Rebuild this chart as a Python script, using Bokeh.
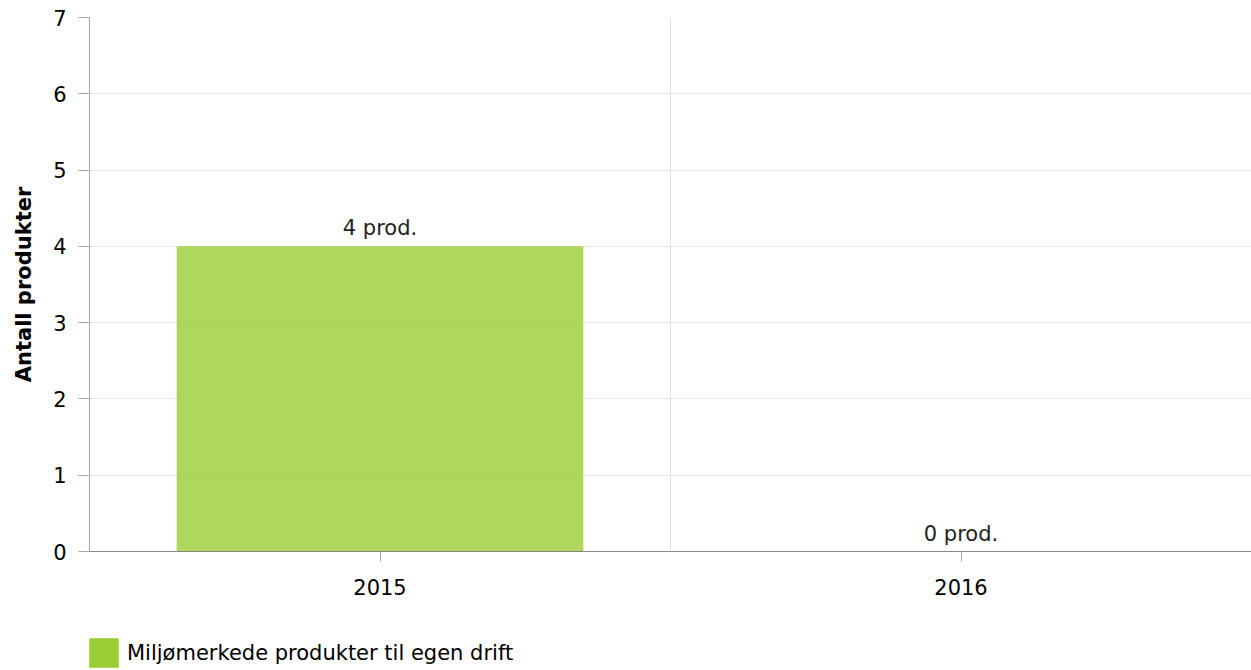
from bokeh.plotting import figure
from bokeh.layouts import column
from bokeh.models import ColumnDataSource, Span, Legend, LegendItem, FixedTicker, LabelSet, Range1d
from bokeh.core.properties import value
from bokeh.embed import file_html
from bokeh.resources import INLINE

years = ["2015", "2016"]
counts = [4, 0]
labels = ["4 prod.", "0 prod."]
series_name = "Miljømerkede produkter til egen drift"
y_ticks = [0, 1, 2, 3, 4, 5, 6, 7]

FONT = "DejaVu Sans"
GREEN = "#9ACD32"

src = ColumnDataSource(dict(x=years, y=counts, label=labels))

p = figure(x_range=years, y_range=Range1d(0, 7), width=1251, height=613,
           output_backend="svg", toolbar_location=None,
           min_border_left=89, min_border_right=0, min_border_top=17, min_border_bottom=62)
p.frame_height = 534
p.frame_width = 1162
p.outline_line_color = None

p.vbar(x="x", top="y", width=0.7, source=src, fill_color=GREEN, fill_alpha=0.8, line_color=None)

lbl = LabelSet(x="x", y="y", text="label", source=src, text_align="center", text_baseline="bottom",
               y_offset=6, text_font=value(FONT), text_font_size="21px", text_color="#222222")
p.add_layout(lbl)

p.xgrid.visible = False
p.add_layout(Span(location=1, dimension="height", line_color="#e0e0e0", line_width=1))
p.ygrid.grid_line_color = "#e6e6e6"
p.yaxis.ticker = FixedTicker(ticks=y_ticks)

p.yaxis.axis_label = "Antall produkter"
p.yaxis.axis_label_text_font = FONT
p.yaxis.axis_label_text_font_style = "bold"
p.yaxis.axis_label_text_font_size = "21px"
p.yaxis.axis_label_text_color = "#000000"
p.yaxis.axis_label_standoff = 14
p.yaxis.axis_line_color = "#a6a6a6"
p.yaxis.major_tick_line_color = "#a6a6a6"
p.yaxis.major_tick_out = 11
p.yaxis.major_tick_in = 0
p.yaxis.minor_tick_line_color = None
p.yaxis.major_label_standoff = 12

p.xaxis.axis_line_color = "#888888"
p.xaxis.major_tick_line_color = "#aaaaaa"
p.xaxis.major_tick_out = 10
p.xaxis.major_tick_in = 0
p.xaxis.major_label_standoff = 17

for ax in (p.xaxis, p.yaxis):
    ax.major_label_text_font = FONT
    ax.major_label_text_font_size = "21px"
    ax.major_label_text_color = "#000000"

# legend strip below the chart; the proxy bars sit outside its visible y range
lg = figure(x_range=years, y_range=Range1d(100, 101), width=1251, height=56,
            output_backend="svg", toolbar_location=None,
            x_axis_location=None, y_axis_location=None,
            min_border_left=89, min_border_right=0, min_border_top=0, min_border_bottom=0)
lg.frame_height = 56
lg.frame_width = 1162
lg.grid.visible = False
lg.outline_line_color = None
proxy = lg.vbar(x="x", top="y", width=0.7, source=src, fill_color=GREEN, line_color=None)
legend = Legend(items=[LegendItem(label=series_name, renderers=[proxy], index=0)],
                location=(-4, -2), orientation="horizontal",
                glyph_width=37, glyph_height=37, label_standoff=5, padding=0, margin=0,
                spacing=0, border_line_color=None, background_fill_alpha=0,
                label_text_font=FONT, label_text_font_size="21px", label_text_color="#000000")
lg.add_layout(legend)

open("out.html", "w").write(file_html(column(p, lg, spacing=0), INLINE))
